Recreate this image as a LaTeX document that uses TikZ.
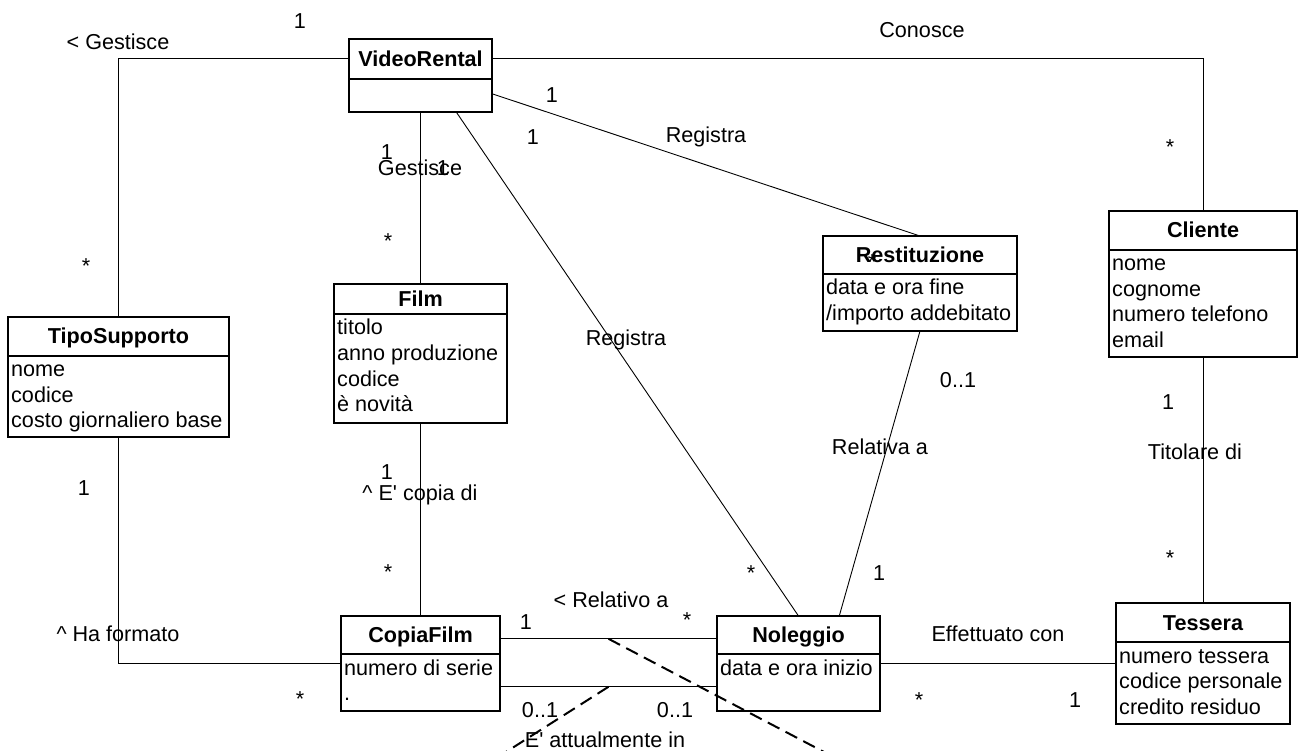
\documentclass[tikz,border=0pt]{standalone}
\usepackage{fontspec}
\setmainfont{Liberation Sans}[Ligatures=TeXOff]
\usetikzlibrary{calc}
\tikzset{
  classbox/.style={draw, line width=1.6pt, inner sep=0pt, outer sep=0pt},
  boxline/.style={line width=1.6pt},
  classtitle/.style={font=\fontsize{21.6}{25}\selectfont\bfseries, anchor=base, inner sep=0pt},
  classattr/.style={font=\fontsize{21.6}{25}\selectfont, anchor=base west, inner sep=0pt},
  lbl/.style={font=\fontsize{21.6}{25}\selectfont, anchor=base, inner sep=0pt},
  assoc/.style={line width=0.9pt},
  dashlink/.style={line width=2pt, dash pattern=on 13pt off 7pt},
}
\newcommand\umlclass[8]{%
  \pgfmathsetmacro\cw{#4-#2}\pgfmathsetmacro\ch{#5-#3}%
  \pgfmathsetmacro\cx{(#2+#4)/2}\pgfmathsetmacro\hy{(#3+#6)/2+7.5}%
  \node[classbox, minimum width=\cw pt, minimum height=\ch pt, anchor=north west] (#1) at (#2,#3) {};
  \draw[boxline] (#2,#6) -- (#4,#6);
  \node[classtitle] (#1-t) at (\cx,\hy) {#7};
  \foreach \a [count=\i] in {#8} {%
    \node[classattr] at ({#2+3},{#6+21+(\i-1)*25.5}) {\a};
  }%
}
\begin{document}
\begin{tikzpicture}[x=1pt,y=-1pt]
\useasboundingbox (0,0) rectangle (1299,751);
\fill[white] (0,0) rectangle (1299,751);

\umlclass{vr}{349}{39}{492}{112}{79}{VideoRental}{}
\umlclass{film}{334}{284}{507}{423}{314}{Film}{titolo,anno produzione,codice,è novità}
\umlclass{ts}{8}{317}{229}{437}{356}{TipoSupporto}{nome,codice,costo giornaliero base}
\umlclass{rest}{823}{236}{1017}{331}{274}{Restituzione}{data e ora fine,/importo addebitato}
\umlclass{cl}{1109}{211}{1297}{357}{250}{Cliente}{nome,cognome,numero telefono,email}
\umlclass{cf}{341}{616}{500}{711}{654}{CopiaFilm}{numero di serie,.}
\umlclass{nol}{717}{616}{880}{711}{654}{Noleggio}{data e ora inizio}
\umlclass{tes}{1116}{603}{1290}{724}{642}{Tessera}{numero tessera,codice personale,credito residuo}

% associations
\draw[assoc] (vr-t -| vr.west) -| (ts.north);
\draw[assoc] (vr-t -| vr.east) -| (cl.north);
\draw[assoc] (vr.south) -- (film.north);
\draw[assoc] ($(vr.south east)!0.25!(vr.north east)$) -- (rest.north);
\draw[assoc] ($(vr.south)!0.5!(vr.south east)$) -- (nol.north);
\draw[assoc] (rest.south) -- ($(nol.north)!0.5!(nol.north east)$);
\draw[assoc] (film.south) -- (cf.north);
\draw[assoc] (ts.south) |- (cf.west);
\draw[assoc] ($(cf.north east)!0.24!(cf.south east)$) coordinate (u1) -- ($(nol.north west)!0.24!(nol.south west)$) coordinate (u2);
\draw[assoc] ($(cf.north east)!0.745!(cf.south east)$) coordinate (l1) -- ($(nol.north west)!0.745!(nol.south west)$) coordinate (l2);
\draw[assoc] (nol.east) -- (tes.west);
\draw[assoc] (cl.south) -- (tes.north);

% dashed links to association class (off-page)
\coordinate (m1) at ($(u1)!0.5!(u2)$);
\coordinate (m2) at ($(l1)!0.5!(l2)$);
\coordinate (e1) at (824,752);
\coordinate (e2) at (506,752);
\draw[dashlink] (m1) -- (e1);
\draw[dashlink] (m2) -- (e2);

% labels
\node[lbl] (l01) at (300,28.5) {1};
\node[lbl] (l02) at (118,49.5) {< Gestisce};
\node[lbl] (l03) at (922,37.5) {Conosce};
\node[lbl] (l04) at (1170,155) {*};
\node[lbl] (l05) at (552,102.5) {1};
\node[lbl] (l06) at (533,144.5) {1};
\node[lbl] (l07) at (706,142.5) {Registra};
\node[lbl] (l08) at (387,160) {1};
\node[lbl] (l09) at (420,175.5) {Gestisce};
\node[lbl] (l10) at (443,175.5) {1};
\node[lbl] (l11) at (388,249) {*};
\node[lbl] (l12) at (86,274) {*};
\node[lbl] (l13) at (872,270) {*};
\node[lbl] (l14) at (626,345.5) {Registra};
\node[lbl] (l15) at (958,387.5) {0..1};
\node[lbl] (l16) at (1168,409.5) {1};
\node[lbl] (l17) at (880,454.5) {Relativa a};
\node[lbl] (l18) at (1195,459.5) {Titolare di};
\node[lbl] (l19) at (84,495.5) {1};
\node[lbl] (l20) at (387,479.5) {1};
\node[lbl] (l21) at (420,500.5) {\^{} E' copia di};
\node[lbl] (l22) at (388,579) {*};
\node[lbl] (l23) at (751,580) {*};
\node[lbl] (l24) at (879,580.5) {1};
\node[lbl] (l25) at (1170,565) {*};
\node[lbl] (l26) at (611,607.5) {< Relativo a};
\node[lbl] (l27) at (526,629.5) {1};
\node[lbl] (l28) at (687,627) {*};
\node[lbl] (l29) at (118,641.5) {\^{} Ha formato};
\node[lbl] (l30) at (998,641.5) {Effettuato con};
\node[lbl] (l31) at (300,706) {*};
\node[lbl] (l32) at (540,717.5) {0..1};
\node[lbl] (l33) at (675,717.5) {0..1};
\node[lbl] (l34) at (919,707) {*};
\node[lbl] (l35) at (1075,707.5) {1};
\node[lbl] (l36) at (605,747.5) {E' attualmente in};
\end{tikzpicture}
\end{document}
